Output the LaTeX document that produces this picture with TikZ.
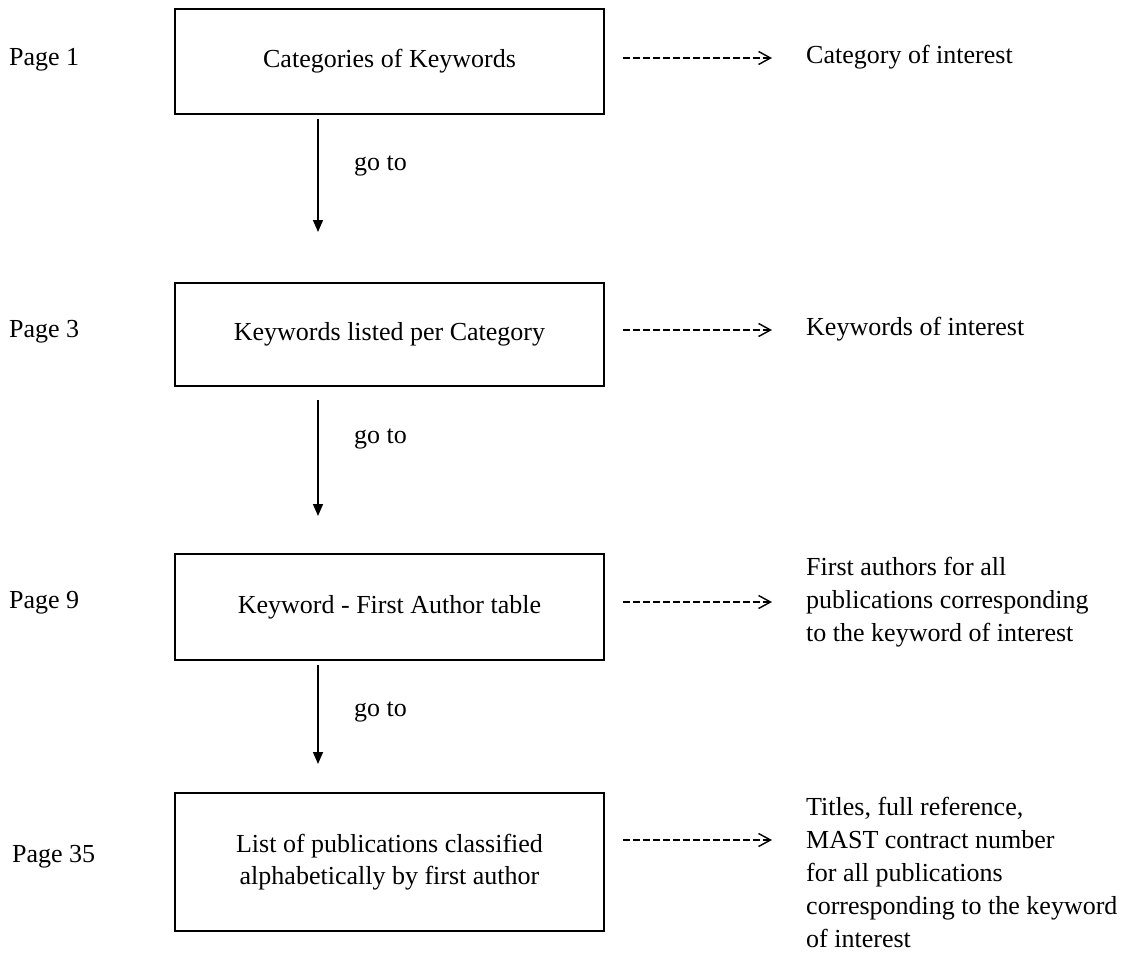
\documentclass[tikz,border=0pt]{standalone}
\usepackage{fontspec}
\setmainfont{Liberation Serif}
\usetikzlibrary{arrows.meta}
\begin{document}
\begin{tikzpicture}[x=1pt,y=-1pt,
  box/.style={draw,line width=1.6pt,minimum width=429pt,inner sep=0pt,align=center,font=\fontsize{26}{32}\selectfont},
  lbl/.style={anchor=west,inner sep=0pt,font=\fontsize{26}{32}\selectfont},
  rtext/.style={anchor=west,inner sep=0pt,align=left,font=\fontsize{26}{33}\selectfont},
  goarrow/.style={line width=1.5pt,-{Triangle[length=12pt,width=10pt]}},
  dasharrow/.style={line width=1.4pt,dash pattern=on 7pt off 3pt,shorten <=18pt,-{Straight Barb[length=12pt,width=13pt,line width=1.4pt]}}
]
\useasboundingbox (0,0) rectangle (1137,953);

% page labels
\node[lbl] (p1) at (9,60) {Page 1};
\node[lbl] (p3) at (9,332) {Page 3};
\node[lbl] (p9) at (9,603) {Page 9};
\node[lbl] (p35) at (12,857) {Page 35};

% boxes
\node[box,minimum height=105pt] (b1) at (389.5,61.5) {Categories of Keywords};
\node[box,minimum height=103pt] (b2) at (389.5,334.5) {Keywords listed per Category};
\node[box,minimum height=106pt] (b3) at (389.5,607) {Keyword - First Author table};
\node[box,minimum height=138pt] (b4) at (389.5,862) {List of publications classified\\alphabetically by first author};

% go to arrows
\coordinate (e1) at (318,232);
\coordinate (e2) at (318,516);
\coordinate (e3) at (318,764);
\draw[goarrow,shorten <=4pt] (b1.south -| e1) -- (e1);
\draw[goarrow,shorten <=13pt] (b2.south -| e2) -- (e2);
\draw[goarrow,shorten <=4pt] (b3.south -| e3) -- (e3);
\node[lbl] (g1) at (354,166) {go to};
\node[lbl] (g2) at (354,439) {go to};
\node[lbl] (g3) at (354,712) {go to};

% right texts
\node[rtext] (r1) at (806,57) {Category of interest};
\node[rtext] (r2) at (806,329) {Keywords of interest};
\node[rtext] (r3) at (806,602) {First authors for all\\publications corresponding\\to the keyword of interest};
\node[rtext] (r4) at (806,872) {Titles, full reference,\\MAST contract number\\for all publications\\corresponding to the keyword\\of interest};

% dashed arrows
\coordinate (d1) at (772,58);
\coordinate (d2) at (772,330);
\coordinate (d3) at (772,602);
\coordinate (d4) at (772,840);
\draw[dasharrow] (b1.east |- d1) -- (d1);
\draw[dasharrow] (b2.east |- d2) -- (d2);
\draw[dasharrow] (b3.east |- d3) -- (d3);
\draw[dasharrow] (b4.east |- d4) -- (d4);
\end{tikzpicture}
\end{document}
